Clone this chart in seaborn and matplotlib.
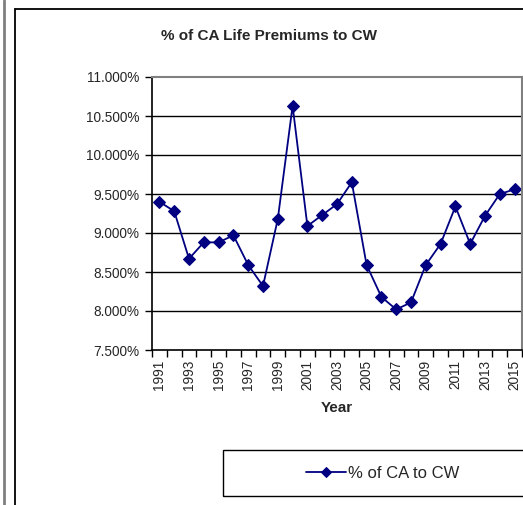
import pandas as pd
import numpy as np
import seaborn as sns
import matplotlib.pyplot as plt
from matplotlib.lines import Line2D
from matplotlib.patches import Rectangle

years = list(range(1991, 2016))
pct_ca_to_cw = [9.40, 9.28, 8.67, 8.88, 8.88, 8.97, 8.59, 8.32, 9.18, 10.63,
                9.09, 9.23, 9.37, 9.65, 8.59, 8.18, 8.02, 8.11, 8.59, 8.86,
                9.34, 8.86, 9.22, 9.50, 9.56]
y_ticks = [7.5, 8.0, 8.5, 9.0, 9.5, 10.0, 10.5, 11.0]

df = pd.DataFrame({'Year': years, 'pct': pct_ca_to_cw})

sns.set_style('white')
plt.rcParams['font.family'] = ['Liberation Sans', 'DejaVu Sans']

W, H = 523, 505
fig = plt.figure(figsize=(W / 100, H / 100), dpi=100)
ax = fig.add_axes([152 / W, (H - 350) / H, 370 / W, 273 / H])

sns.lineplot(data=df, x='Year', y='pct', marker='D', color='#000080',
             markersize=6, markeredgecolor='#000080', linewidth=1.3,
             label='% of CA to CW', ax=ax)
handles, labels = ax.get_legend_handles_labels()
ax.get_legend().remove()

ax.set_xlim(1990.5, 2015.5)
ax.set_ylim(7.5, 11.0)
ax.set_yticks(y_ticks)
ax.set_yticklabels(['{:.3f}%'.format(v) for v in y_ticks], fontsize=9.8)
ax.set_xticks(years[::2])
ax.set_xticklabels([str(y) for y in years[::2]], rotation=90, fontsize=9.8)
ax.set_xticks(np.arange(1990.5, 2016, 1.0), minor=True)
ax.tick_params(axis='x', which='major', length=0, pad=7)
ax.tick_params(axis='x', which='minor', length=5, width=1, color='black', direction='out', bottom=True)
ax.tick_params(axis='y', length=5, width=1, color='black', direction='out', left=True, pad=4)
ax.set_xlabel('')
ax.set_ylabel('')

for v in y_ticks[1:-1]:
    ax.axhline(v, color='black', linewidth=1, zorder=1)

for s in ['left', 'bottom']:
    ax.spines[s].set_color('black')
    ax.spines[s].set_linewidth(1.2)
for s in ['top', 'right']:
    ax.spines[s].set_color('#808080')
    ax.spines[s].set_linewidth(1.5)

fig.text(269 / W, 1 - 36 / H, '% of CA Life Premiums to CW', ha='center', va='center',
         fontsize=11, fontweight='bold')
fig.text(337 / W, 1 - 408 / H, 'Year', ha='center', va='center',
         fontsize=11, fontweight='bold')

# chart frame remnants
fig.add_artist(Line2D([4 / W, 4 / W], [0, 1], color='#808080', linewidth=2))
fig.add_artist(Line2D([15 / W, 15 / W], [0, 1 - 9 / H], color='black', linewidth=1.3))
fig.add_artist(Line2D([15 / W, 1], [1 - 9 / H, 1 - 9 / H], color='black', linewidth=1.3))

# legend box
fig.add_artist(Rectangle((223 / W, (H - 496) / H), 320 / W, 46 / H, fill=False,
                         edgecolor='black', linewidth=1, transform=fig.transFigure))
fig.legend(handles, labels, loc='center', bbox_to_anchor=(383 / W, 1 - 473 / H),
           frameon=False, fontsize=12, handlelength=2.4, markerscale=0.8, handletextpad=0.1)

fig.savefig('out.png', dpi=100)
